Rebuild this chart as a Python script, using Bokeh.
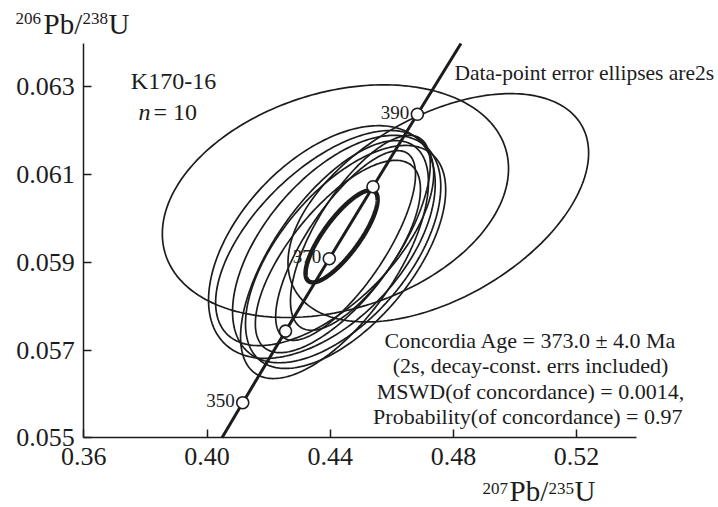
import numpy as np
from bokeh.plotting import figure
from bokeh.models import Range1d, FixedTicker, PrintfTickFormatter, Label
from bokeh.embed import file_html
from bokeh.resources import INLINE

# ---- data ----
# concordia curve nodes (age in Ma, 207Pb/235U, 206Pb/238U)
conc_age = [340, 350, 360, 370, 380, 390, 400]
conc_x = [0.3978, 0.4116, 0.4255, 0.4397, 0.4539, 0.4683, 0.4828]
conc_y = [0.05416, 0.05580, 0.05743, 0.05908, 0.06072, 0.06237, 0.06402]
marker_ages = [350, 360, 370, 380, 390]
labelled_ages = [350, 370, 390]

# data-point error ellipses (2s): centre, half-extent in x and y, error correlation
ell_x   = [0.4417, 0.4751, 0.4373, 0.4382, 0.4414, 0.4421, 0.4425, 0.4450, 0.4450, 0.4498]
ell_y   = [0.06039, 0.06024, 0.05946, 0.05955, 0.05906, 0.05930, 0.05913, 0.05938, 0.05912, 0.05967]
ell_sx  = [0.0562, 0.0488, 0.0368, 0.0354, 0.0305, 0.0338, 0.0268, 0.0227, 0.0325, 0.0227]
ell_sy  = [0.00265, 0.00260, 0.00265, 0.00245, 0.00271, 0.00259, 0.00219, 0.00216, 0.00254, 0.00222]
ell_rho = [0.28, 0.48, 0.50, 0.60, 0.65, 0.55, 0.70, 0.75, 0.60, 0.70]

# concordia age ellipse
age_x, age_y, age_sx, age_sy, age_rho = 0.4437, 0.05959, 0.0117, 0.00105, 0.80

x_ticks = [0.36, 0.40, 0.44, 0.48, 0.52]
y_ticks = [0.055, 0.057, 0.059, 0.061, 0.063]
x_axis_end = 0.5394
y_axis_end = 0.06398


def ellipse_outline(cx, cy, sx, sy, rho, n=240):
    t = np.linspace(0, 2 * np.pi, n)
    xs = cx + sx * np.cos(t)
    ys = cy + sy * (rho * np.cos(t) + np.sqrt(1 - rho ** 2) * np.sin(t))
    return list(xs), list(ys)


W, H = 718, 507
OX, OY = 83.3, 437.3          # pixel position of the axes origin
SX, SY = 3080.0, 43900.0      # pixels per data unit
X0, Y0 = x_ticks[0], y_ticks[0]

p = figure(width=W, height=H, output_backend="svg", toolbar_location=None,
           x_range=Range1d(X0 - OX / SX, X0 + (W - OX) / SX),
           y_range=Range1d(Y0 - (H - OY) / SY, Y0 + OY / SY),
           min_border_left=0, min_border_right=0, min_border_top=0, min_border_bottom=0)
p.outline_line_color = None
p.xgrid.visible = False
p.ygrid.visible = False
p.background_fill_color = "white"
p.border_fill_color = "white"

FONT = "Liberation Serif"
INK = "#1c1c1c"

for ax in (p.xaxis[0], p.yaxis[0]):
    ax.major_tick_in = 8
    ax.major_tick_out = 0
    ax.minor_tick_line_color = None
    ax.axis_line_width = 1.5
    ax.axis_line_color = INK
    ax.major_tick_line_color = INK
    ax.major_tick_line_width = 1.5
    ax.major_label_text_font = FONT
    ax.major_label_text_font_size = "26px"
    ax.major_label_text_color = INK
p.xaxis.ticker = FixedTicker(ticks=x_ticks)
p.yaxis.ticker = FixedTicker(ticks=y_ticks)
p.xaxis.formatter = PrintfTickFormatter(format="%.2f")
p.yaxis.formatter = PrintfTickFormatter(format="%.3f")
p.xaxis.fixed_location = Y0
p.yaxis.fixed_location = X0
p.xaxis.bounds = (X0, x_axis_end)
p.yaxis.bounds = (Y0, y_axis_end)
p.xaxis.major_label_standoff = 10
p.yaxis.major_label_standoff = 9

# ellipses
exs, eys = [], []
for cx, cy, sx, sy, r in zip(ell_x, ell_y, ell_sx, ell_sy, ell_rho):
    a, b = ellipse_outline(cx, cy, sx, sy, r)
    exs.append(a)
    eys.append(b)
p.multi_line(xs=exs, ys=eys, line_color=INK, line_width=1.7)

ax_, ay_ = ellipse_outline(age_x, age_y, age_sx, age_sy, age_rho)
p.line(ax_, ay_, line_color=INK, line_width=4.5)

# concordia (clipped to the axes box)
cx_c = list(conc_x)
cy_c = list(conc_y)
if cy_c[-1] > y_axis_end:
    f = (y_axis_end - cy_c[-2]) / (cy_c[-1] - cy_c[-2])
    cx_c[-1] = cx_c[-2] + f * (cx_c[-1] - cx_c[-2])
    cy_c[-1] = y_axis_end
if cy_c[0] < Y0:
    f = (Y0 - cy_c[0]) / (cy_c[1] - cy_c[0])
    cx_c[0] = cx_c[0] + f * (cx_c[1] - cx_c[0])
    cy_c[0] = Y0
p.line(cx_c, cy_c, line_color=INK, line_width=3)
mk = [conc_age.index(a) for a in marker_ages]
p.scatter([conc_x[i] for i in mk], [conc_y[i] for i in mk], size=12,
          fill_color="white", line_color=INK, line_width=1.6)


def px2x(px):
    return X0 + (px - OX) / SX


def py2y(py):
    return Y0 + (OY - py) / SY


def lab(text, px, py, size, align="left", baseline="middle", style="normal"):
    p.add_layout(Label(x=px2x(px), y=py2y(py), text=text, text_font=FONT,
                       text_font_size=size, text_color=INK, text_align=align,
                       text_baseline=baseline, text_font_style=style))

# age labels on concordia
for a in labelled_ages:
    i = conc_age.index(a)
    p.add_layout(Label(x=conc_x[i], y=conc_y[i], text=str(a), text_font=FONT,
                       text_font_size="19px", text_color=INK, text_align="right",
                       text_baseline="middle", x_offset=-8, y_offset=2))

# sample labels
lab("K170-16", 173, 80, "24px", align="center")
lab("n", 138, 111, "24px", align="left", style="italic")
lab("= 10", 153, 111, "24px", align="left")
lab("Data-point error ellipses are2s", 454, 72, "21.5px")

stats = ["Concordia Age = 373.0 \u00b1 4.0 Ma",
         "(2s, decay-const. errs included)",
         "MSWD(of concordance) = 0.0014,",
         "Probability(of concordance)  = 0.97"]
for k, s in enumerate(stats):
    lab(s, 530, 340 + k * 25.3, "22px", align="center")

# axis titles with superscripts (positions given by the bottom of the text box)
lab("206", 15, 23, "17px", baseline="bottom")
lab("Pb/", 43, 39, "29px", baseline="bottom")
lab("238", 82, 23, "17px", baseline="bottom")
lab("U", 108, 39, "29px", baseline="bottom")

lab("207", 482, 493, "17px", baseline="bottom")
lab("Pb/", 509, 506, "29px", baseline="bottom")
lab("235", 548, 493, "17px", baseline="bottom")
lab("U", 574, 506, "29px", baseline="bottom")

open("out.html", "w").write(file_html(p, INLINE))
